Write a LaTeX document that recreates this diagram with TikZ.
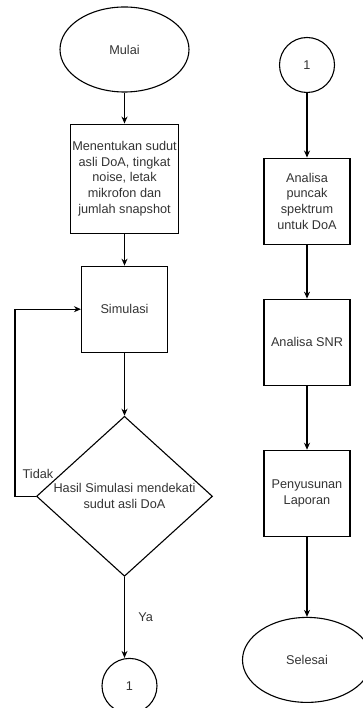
\documentclass[tikz,border=0pt]{standalone}
\usepackage{fontspec}
\setmainfont{Liberation Sans}
\usetikzlibrary{shapes.geometric, arrows.meta, positioning}

\begin{document}
\begin{tikzpicture}[
    >={Stealth[length=7pt,width=6pt]},
    font=\fontsize{12.7}{15.7}\selectfont,
    line width=1.1pt,
    box/.style={draw, align=center, minimum width=86pt, minimum height=86pt, inner sep=1pt, text=black!80},
    term/.style={draw, ellipse, minimum width=129pt, minimum height=85pt, text=black!80},
    conn/.style={draw, circle, minimum size=55pt, inner sep=0pt, text=black!80},
    dec/.style={draw, diamond, minimum width=176pt, minimum height=160pt, inner sep=0pt},
    lbl/.style={text=black!80}
]
\useasboundingbox (0,0) rectangle (362pt,-708pt);

\node[term] (mulai) at (124.5pt,-49.5pt) {Mulai};
\node[box, minimum width=108pt, minimum height=109pt, below=31pt of mulai] (tentukan) {Menentukan sudut\\asli DoA, tingkat\\noise, letak\\mikrofon dan\\jumlah snapshot};
\node[box, below=32pt of tentukan] (simulasi) {Simulasi};
\node[dec, below=63pt of simulasi] (cek) {};
\node[lbl, align=center] (cektext) at (cek) {Hasil Simulasi mendekati\\sudut asli DoA};
\node[conn, below=81pt of cek, xshift=5pt] (konA) {1};

\node[conn] (konB) at (307pt,-65pt) {1};
\node[box, below=64.5pt of konB] (puncak) {Analisa\\puncak\\spektrum\\untuk DoA};
\node[box, below=54pt of puncak] (snr) {Analisa SNR};
\node[box, below=64pt of snr] (laporan) {Penyusunan\\Laporan};
\node[term, below=80pt of laporan] (selesai) {Selesai};

\draw[->] (mulai) -- (tentukan);
\draw[->] (tentukan) -- (simulasi);
\draw[->] (simulasi) -- (cek);
\draw[->] (cek.west) -- ++(-21pt,0) node[lbl, pos=0, above=14pt, xshift=2pt] (tidak) {Tidak} |- (simulasi.west);
\draw[->] (cek.south) -- node[lbl, right=10pt] (ya) {Ya} (cek.south |- konA.north);

\draw[->] (konB) -- (puncak);
\draw[->] (puncak) -- (snr);
\draw[->] (snr) -- (laporan);
\draw[->] (laporan) -- (selesai);
\end{tikzpicture}
\end{document}
